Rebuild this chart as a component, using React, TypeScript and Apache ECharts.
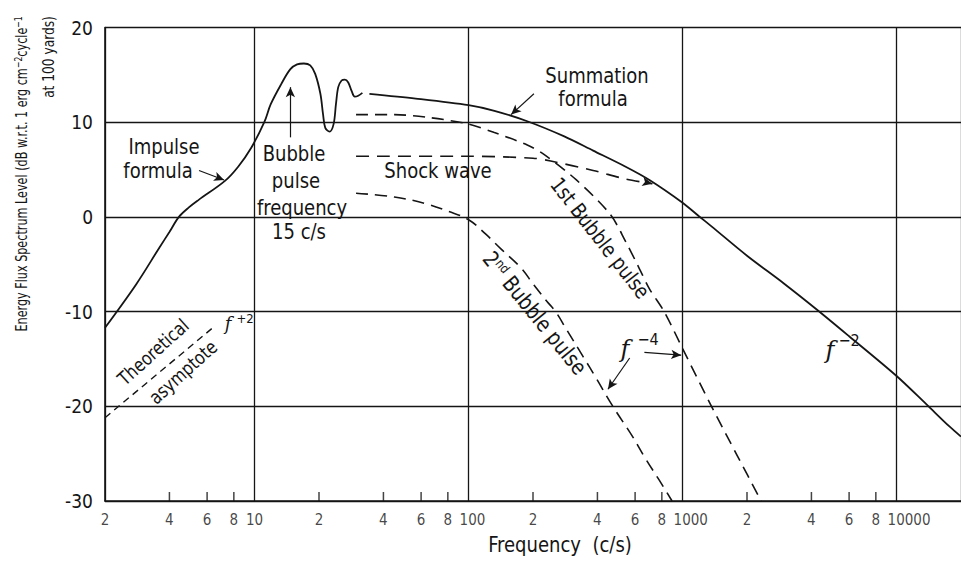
import React, { useEffect, useRef } from "react";
import * as echarts from "echarts";

const FF = "'Liberation Sans Narrow','DejaVu Sans Condensed','Arial Narrow',sans-serif";
const SERIF = "'DejaVu Serif','Liberation Serif',serif";
const INK = "#151515";

// Impulse formula + bubble pulse oscillations (solid)
const impulseF = [2, 2.8, 3.6, 4.0, 4.43, 4.93, 5.48, 7.27, 8.38, 9.65, 11.1, 11.9, 13.3, 14.7, 15.8, 17.0, 18.2, 19.2, 20.3, 20.9, 21.4, 22.4, 23.4, 24.0, 24.6, 25.5, 26.4, 27.4, 28.4, 29.4, 30.5, 31.9];
const impulseDb = [-11.7, -7.1, -3.2, -1.6, 0, 1.0, 1.8, 3.8, 5.3, 7.3, 10.0, 11.9, 14.0, 15.6, 16.1, 16.2, 16.0, 15.1, 13.0, 10.8, 9.4, 9.0, 9.8, 11.9, 13.7, 14.4, 14.5, 14.2, 13.3, 12.7, 12.8, 13.1];

// Summation formula (solid)
const sumF = [34.4, 56.6, 100, 132, 188, 280, 382, 542, 700, 1000, 1189, 1365, 2000, 2963, 4248, 6000, 10000, 13800, 17600, 20000];
const sumDb = [13.0, 12.5, 11.8, 11.2, 10.1, 8.5, 7.0, 5.3, 3.9, 1.5, 0.1, -1.0, -4.1, -7.0, -9.8, -12.6, -16.8, -19.8, -22.1, -23.2];

// 1st bubble pulse (dashed)
const b1F = [29.8, 45, 65, 100, 132, 188, 225, 319, 458, 542, 620, 700, 820, 1000, 1365, 1800, 2330];
const b1Db = [10.8, 10.8, 10.5, 9.8, 8.9, 7.6, 6.6, 3.9, 0.3, -2.6, -5.2, -7.6, -10.0, -13.9, -20.0, -25.2, -30];

// 2nd bubble pulse (dashed)
const b2F = [29.8, 45, 63, 80, 100, 120, 142, 176, 202, 232, 255, 287, 344, 394, 472, 584, 670, 778, 893];
const b2Db = [2.5, 2.1, 1.4, 0.6, -0.3, -1.8, -3.4, -5.4, -7.2, -8.9, -10.0, -11.9, -14.8, -17.0, -20.0, -23.2, -25.5, -27.8, -30];

// Shock wave (dashed)
const shockF = [29.8, 100, 200, 242, 382, 542, 722];
const shockDb = [6.4, 6.4, 6.2, 5.9, 4.9, 4.0, 3.5];

// Theoretical asymptote f^+2 (dashed)
const asymF = [2, 6.54];
const asymDb = [-21.2, -11.5];

// x-axis tick labels and minor ticks
const tickVals = [2, 4, 6, 8, 10, 20, 40, 60, 80, 100, 200, 400, 600, 800, 1000, 2000, 4000, 6000, 8000, 10000];
const tickLabels = ["2", "4", "6", "8", "10", "2", "4", "6", "8", "100", "2", "4", "6", "8", "1000", "2", "4", "6", "8", "10000"];
const minorTicks = [4, 6, 8, 20, 40, 60, 80, 200, 400, 600, 800, 2000, 4000, 6000, 8000];

// annotation arrows [from, to] in data coordinates
const arrows = [
  [[5.5, 4.9], [7.2, 3.9]],
  [[14.7, 8.4], [14.7, 13.7]],
  [[202, 13.0], [158, 10.8]],
  [[566, -14.9], [448, -18.2]],
  [[663, -14.3], [985, -14.6]],
  [[690, 3.6], [722, 3.5]],
];

function txt(t: string, x: number, y: number, size: number, o: any = {}) {
  return {
    type: "text",
    x,
    y,
    rotation: o.rot ? (o.rot * Math.PI) / 180 : 0,
    scaleX: o.sx || 1,
    z: 100,
    silent: true,
    style: {
      text: t,
      fill: INK,
      fontSize: size,
      fontFamily: o.family || FF,
      fontStyle: o.italic ? "italic" : "normal",
      align: o.align || "center",
      verticalAlign: "middle",
      textAlign: o.align || "center",
      textVerticalAlign: "middle",
      rich: o.rich,
    },
  };
}

export default function App() {
  const ref = useRef<HTMLDivElement>(null);
  useEffect(() => {
    const chart = echarts.init(ref.current as HTMLDivElement, null, { renderer: "svg" });
    const pts = (xs: number[], ys: number[]) => xs.map((x, i) => [x, ys[i]]);
    const solid = { color: INK, width: 1.8 };
    const supRich = { s: { fontSize: 11, fontFamily: FF, fill: INK, color: INK, verticalAlign: "top" } };
    const supRich2 = { s: { fontSize: 13, fontFamily: FF, fill: INK, color: INK, verticalAlign: "top" } };
    const A = { sx: 0.91 };

    chart.setOption({
      animation: false,
      backgroundColor: "#fff",
      grid: { left: 105, top: 27.5, width: 868, height: 473.5 },
      xAxis: {
        type: "log",
        logBase: 10,
        min: 2,
        max: 20000,
        axisLine: { show: true, onZero: false, lineStyle: { color: INK, width: 1.6 } },
        axisTick: { show: false },
        axisLabel: { show: false },
        splitLine: { show: true, lineStyle: { color: INK, width: 1.3 } },
      },
      yAxis: {
        type: "value",
        min: -30,
        max: 20,
        interval: 10,
        axisLine: { show: true, onZero: false, lineStyle: { color: INK, width: 1.6 } },
        axisTick: { show: false },
        axisLabel: { color: INK, fontSize: 19, fontFamily: FF, margin: 12 },
        splitLine: { show: true, lineStyle: { color: INK, width: 1.3 } },
      },
      series: [
        {
          type: "line",
          data: pts(impulseF, impulseDb),
          symbol: "none",
          smooth: 0.35,
          lineStyle: solid,
          markLine: {
            silent: true,
            symbol: ["none", "arrow"],
            symbolSize: [7, 10],
            lineStyle: { color: INK, width: 1.2, type: "solid" },
            label: { show: false },
            data: arrows.map((a) => [{ coord: a[0] }, { coord: a[1] }]),
          },
        },
        { type: "line", data: pts(sumF, sumDb), symbol: "none", smooth: 0.3, lineStyle: solid },
        { type: "line", data: pts(b1F, b1Db), symbol: "none", smooth: 0.3, lineStyle: { color: INK, width: 1.6, type: [12, 7] } },
        { type: "line", data: pts(b2F, b2Db), symbol: "none", smooth: 0.4, lineStyle: { color: INK, width: 1.6, type: [12, 7] } },
        { type: "line", data: pts(shockF, shockDb), symbol: "none", smooth: 0.3, lineStyle: { color: INK, width: 1.6, type: [13, 8] } },
        { type: "line", data: pts(asymF, asymDb), symbol: "none", lineStyle: { color: INK, width: 1.4, type: [7, 5] } },
        {
          type: "scatter",
          data: minorTicks.map((v) => [v, -30]),
          symbol: "rect",
          symbolSize: [1.5, 9],
          symbolOffset: [0, -4.5],
          itemStyle: { color: INK },
          clip: false,
          silent: true,
        },
        {
          type: "scatter",
          data: tickVals.map((v, i) => {
            const dec = tickLabels[i].length > 1 && v > 10;
            return {
              value: [v, -30],
              label: dec ? { align: "left", offset: [-9, 19] } : {},
            };
          }),
          symbol: "circle",
          symbolSize: 1,
          itemStyle: { color: "rgba(0,0,0,0)" },
          clip: false,
          silent: true,
          label: {
            show: true,
            position: "inside",
            offset: [0, 19],
            color: INK,
            fontSize: 15,
            fontFamily: FF,
            formatter: (p: any) => tickLabels[p.dataIndex],
          },
        },
      ],
      graphic: [
        txt("Impulse", 164, 146, 22, A),
        txt("formula", 158, 170, 22, A),
        txt("Bubble", 294, 153, 22, A),
        txt("pulse", 296, 180, 22, A),
        txt("frequency", 302, 207, 22, A),
        txt("15 c/s", 299, 231, 22, A),
        txt("Summation", 597, 75, 22, A),
        txt("formula", 593, 98, 22, A),
        txt("Shock wave", 438, 170, 22, A),
        txt("1st Bubble pulse", 600, 238, 21, { rot: -52, sx: 0.93 }),
        txt("2{s|nd} Bubble pulse", 535, 313, 22, { rot: -51, rich: supRich2, sx: 0.93 }),
        txt("Theoretical", 153, 352, 19, { rot: 42, sx: 0.92 }),
        txt("asymptote", 183, 372, 19, { rot: 42, sx: 0.92 }),
        txt("f", 228, 323, 18, { family: SERIF, italic: true }),
        txt("+2", 245, 318, 13),
        txt("f", 625, 349, 24, { family: SERIF, italic: true }),
        txt("\u22124", 648, 339, 16),
        txt("f", 830, 350, 24, { family: SERIF, italic: true }),
        txt("\u22122", 849, 340, 16),
        txt("Frequency  (c/s)", 560, 544, 22, A),
        txt("Energy Flux Spectrum Level (dB w.r.t. 1 erg cm{s|\u22122}cycle{s|\u22121}", 21, 174, 16, { rot: 90, rich: supRich, sx: 0.78 }),
        txt("at 100 yards)", 48, 57, 16, { rot: 90, sx: 0.85 }),
      ],
    });
    return () => chart.dispose();
  }, []);
  return (
    <div
      ref={ref}
      style={{ position: "absolute", left: 0, top: 0, width: 961, height: 562, background: "#fff" }}
    />
  );
}
